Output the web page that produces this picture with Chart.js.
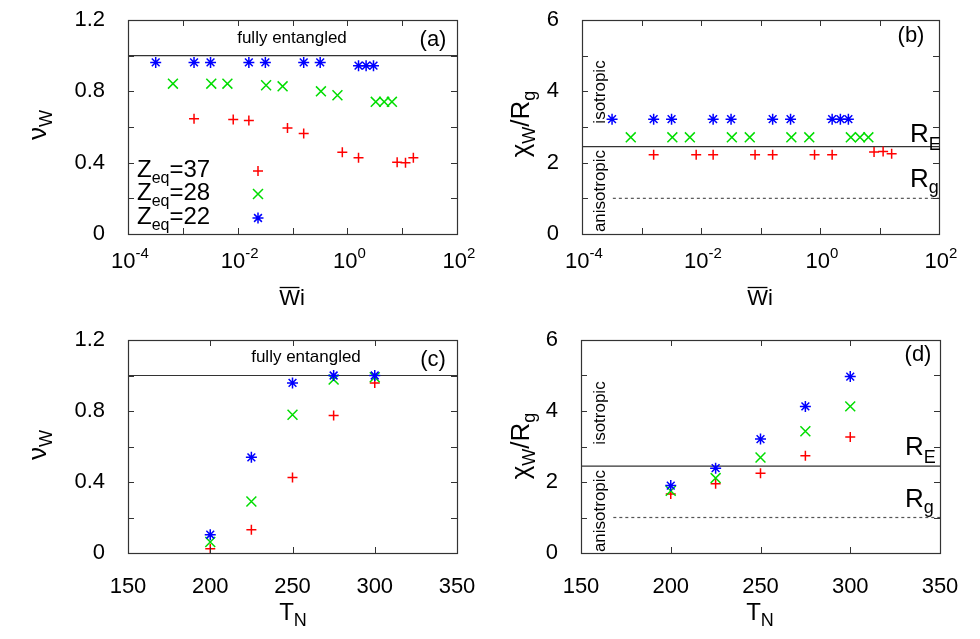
<!DOCTYPE html>
<html>
<head>
<meta charset="utf-8">
<script src="https://cdn.jsdelivr.net/npm/chart.js@4.4.0/dist/chart.umd.min.js"></script>
<style>
  body { margin: 0; background: #fff; width: 980px; height: 639px; position: relative; overflow: hidden; }
  canvas { position: absolute; }
</style>
</head>
<body>
<canvas id="chartA" width="490" height="320" style="left:0;top:0;width:490px;height:320px"></canvas>
<canvas id="chartB" width="490" height="320" style="left:490px;top:0;width:490px;height:320px"></canvas>
<canvas id="chartC" width="490" height="319" style="left:0;top:320px;width:490px;height:319px"></canvas>
<canvas id="chartD" width="490" height="319" style="left:490px;top:320px;width:490px;height:319px"></canvas>
<script>
// Wi positions of the three series (top panels)
const wi22 = [3.2e-4, 1.6e-3, 3.2e-3, 1.6e-2, 3.2e-2, 0.16, 0.32, 1.6, 2.2, 3.0];
const wi28 = [6.6e-4, 3.3e-3, 6.5e-3, 3.3e-2, 6.6e-2, 0.33, 0.66, 3.3, 4.7, 6.5];
const wi37 = [1.6e-3, 8.3e-3, 1.6e-2, 8.1e-2, 0.16, 0.81, 1.6, 8.1, 11.5, 16];

// (a) nu_W vs Wi
const nuWi22 = [0.962, 0.962, 0.962, 0.962, 0.962, 0.962, 0.962, 0.944, 0.944, 0.944];
const nuWi28 = [0.843, 0.843, 0.843, 0.834, 0.828, 0.80, 0.778, 0.741, 0.741, 0.741];
const nuWi37 = [0.646, 0.642, 0.636, 0.595, 0.563, 0.459, 0.427, 0.403, 0.399, 0.427];

// (b) chi_W/R_g vs Wi
const chiWi22 = [3.22, 3.22, 3.22, 3.22, 3.22, 3.22, 3.22, 3.22, 3.22, 3.22];
const chiWi28 = [2.71, 2.71, 2.71, 2.71, 2.71, 2.71, 2.71, 2.71, 2.71, 2.71];
const chiWi37 = [2.22, 2.22, 2.22, 2.22, 2.22, 2.22, 2.22, 2.30, 2.31, 2.25];

// bottom panels vs T_N
const tN = [200, 225, 250, 275, 300];
const nuT22 = [0.103, 0.539, 0.958, 1.0, 1.0];
const nuT28 = [0.062, 0.29, 0.779, 0.977, 0.99];
const nuT37 = [0.024, 0.131, 0.426, 0.774, 0.958];
const chiT22 = [1.90, 2.39, 3.21, 4.13, 4.97];
const chiT28 = [1.75, 2.11, 2.69, 3.43, 4.13];
const chiT37 = [1.66, 1.95, 2.25, 2.74, 3.27];

// reference levels
const fullyEntangled = 1.0;
const rE = 2.45;
const rG = 1.0;

const FONT = "'Liberation Sans', Arial, sans-serif";
Chart.defaults.font.family = FONT;
Chart.defaults.color = '#000';

const RED = '#ff0000', GREEN = '#00dd00', BLUE = '#0000ff', LINE = '#333333';

function series(xs, ys, color, style, r) {
    return {
        data: xs.map((x, i) => ({ x: x, y: ys[i] })),
        borderColor: color,
        backgroundColor: color,
        borderWidth: 1.5,
        pointStyle: style,
        pointRadius: r,
        pointHoverRadius: r
    };
}

function refLine(x0, x1, y, dashed) {
    return {
        data: [{ x: x0, y: y }, { x: x1, y: y }],
        showLine: true,
        pointRadius: 0,
        borderColor: dashed ? '#555' : LINE,
        borderWidth: 1.2,
        borderDash: dashed ? [3, 3] : []
    };
}

// text with sub/superscripts: parts = [[text, size, dy], ...]
function rich(ctx, parts, x, y, align, rot) {
    const w = parts.map(p => { ctx.font = p[1] + 'px ' + FONT; return ctx.measureText(p[0]).width; });
    const total = w.reduce((a, b) => a + b, 0);
    ctx.save();
    ctx.translate(x, y);
    if (rot) ctx.rotate(-Math.PI / 2);
    let cx = align === 'center' ? -total / 2 : (align === 'right' ? -total : 0);
    ctx.textAlign = 'left';
    ctx.textBaseline = 'alphabetic';
    ctx.fillStyle = '#000';
    parts.forEach((p, i) => {
        ctx.font = p[1] + 'px ' + FONT;
        ctx.fillText(p[0], cx, p[2] || 0);
        cx += w[i];
    });
    ctx.restore();
    return total;
}

function plain(ctx, txt, size, x, y, rot) {
    ctx.save();
    ctx.translate(x, y);
    if (rot) ctx.rotate(-Math.PI / 2);
    ctx.font = size + 'px ' + FONT;
    ctx.fillStyle = '#000';
    ctx.textAlign = 'center';
    ctx.textBaseline = 'middle';
    ctx.fillText(txt, 0, 0);
    ctx.restore();
}

function wiLabel(ctx, x, y) {
    ctx.font = '22px ' + FONT;
    const wW = ctx.measureText('W').width;
    const total = wW + ctx.measureText('i').width;
    const x0 = x - total / 2;
    ctx.fillStyle = '#000';
    ctx.textAlign = 'left';
    ctx.textBaseline = 'alphabetic';
    ctx.fillText('Wi', x0, y);
    ctx.strokeStyle = '#000';
    ctx.lineWidth = 1.3;
    ctx.beginPath();
    ctx.moveTo(x0 + 0.5, y - 17.5);
    ctx.lineTo(x0 + wW - 0.5, y - 17.5);
    ctx.stroke();
}

function marker(ctx, style, x, y, color) {
    ctx.save();
    ctx.strokeStyle = color;
    ctx.lineWidth = 1.5;
    ctx.beginPath();
    if (style === 'cross' || style === 'star') {
        const r = style === 'star' ? 5.5 : 5;
        ctx.moveTo(x - r, y); ctx.lineTo(x + r, y);
        ctx.moveTo(x, y - r); ctx.lineTo(x, y + r);
    }
    if (style === 'crossRot' || style === 'star') {
        const d = style === 'star' ? 3.9 : 5;
        ctx.moveTo(x - d, y - d); ctx.lineTo(x + d, y + d);
        ctx.moveTo(x - d, y + d); ctx.lineTo(x + d, y - d);
    }
    ctx.stroke();
    ctx.restore();
}

// frame with inward ticks on all four sides, plus panel texts
function framePlugin(ox, oy, logX, texts) {
    return {
        id: 'frame',
        afterDraw(chart) {
            const ctx = chart.ctx, a = chart.chartArea;
            const sx = chart.scales.x, sy = chart.scales.y;
            ctx.save();
            ctx.strokeStyle = LINE;
            ctx.lineWidth = 1;
            ctx.beginPath();
            sx.ticks.forEach(t => {
                const px = Math.round(sx.getPixelForValue(t.value)) + 0.5;
                ctx.moveTo(px, a.bottom); ctx.lineTo(px, a.bottom - 6);
                ctx.moveTo(px, a.top); ctx.lineTo(px, a.top + 6);
            });
            sy.ticks.forEach(t => {
                const py = Math.round(sy.getPixelForValue(t.value)) + 0.5;
                ctx.moveTo(a.left, py); ctx.lineTo(a.left + 6, py);
                ctx.moveTo(a.right, py); ctx.lineTo(a.right - 6, py);
            });
            ctx.stroke();
            ctx.lineWidth = 1.2;
            ctx.strokeRect(Math.round(a.left) + 0.5, Math.round(a.top) + 0.5,
                Math.round(a.right - a.left), Math.round(a.bottom - a.top));
            if (logX) {
                sx.ticks.forEach(t => {
                    const e = Math.round(Math.log10(t.value));
                    if (e % 2 !== 0) return;
                    rich(ctx, [['10', 22, 0], [String(e), 15, -10]],
                        sx.getPixelForValue(t.value) + 2, a.bottom + 34, 'center');
                });
            }
            ctx.translate(-ox, -oy);
            texts(ctx);
            ctx.restore();
        }
    };
}

// keep the plot area where the layout padding puts it
function noOverflow(s) {
    s.paddingTop = 0; s.paddingBottom = 0; s.paddingLeft = 0; s.paddingRight = 0;
}

function yTicks(step, every, fmt) {
    return {
        stepSize: step, padding: 15, autoSkip: false,
        font: { size: 22 },
        callback: v => (Math.round(v / step) % every === 0 ? fmt(v) : '')
    };
}

function makeChart(id, cfg) {
    return new Chart(document.getElementById(id), {
        type: 'scatter',
        data: { datasets: cfg.datasets },
        options: {
            responsive: false,
            animation: false,
            layout: { padding: { top: 20, right: cfg.padRight, left: 0, bottom: 0 } },
            plugins: { legend: { display: false }, tooltip: { enabled: false } },
            scales: {
                x: cfg.x,
                y: Object.assign({
                    grid: { display: false },
                    border: { display: false },
                    afterFit: s => { s.width = cfg.yWidth; noOverflow(s); }
                }, cfg.y)
            }
        },
        plugins: [framePlugin(cfg.ox, cfg.oy, cfg.logX, cfg.texts)]
    });
}

function logAxis() {
    return {
        type: 'logarithmic', min: 1e-4, max: 100,
        grid: { display: false },
        border: { display: false },
        ticks: { display: false },
        afterBuildTicks: s => { s.ticks = [-4, -3, -2, -1, 0, 1, 2].map(e => ({ value: Math.pow(10, e) })); },
        afterFit: s => { s.height = 86; noOverflow(s); }
    };
}

function tAxis() {
    return {
        type: 'linear', min: 150, max: 350,
        grid: { display: false },
        border: { display: false },
        ticks: { stepSize: 50, padding: 13, font: { size: 22 }, maxRotation: 0, autoSkip: false },
        afterFit: s => { s.height = 86; noOverflow(s); }
    };
}

const nuFmt = v => (Math.abs(v) < 1e-9 ? '0' : v.toFixed(1));
const intFmt = v => String(Math.round(v));

function nuLabel(ctx, y) { rich(ctx, [['ν', 26, 0], ['W', 18, 6]], 46, y, 'center', true); }
function chiLabel(ctx, y) { rich(ctx, [['χ', 26, 0], ['W', 18, 6], ['/R', 26, 0], ['g', 18, 6]], 529, y, 'center', true); }

// (a)
makeChart('chartA', {
    ox: 0, oy: 0, yWidth: 128, padRight: 33, logX: true,
    datasets: [
        series(wi22, nuWi22, BLUE, 'star', 5.5),
        series(wi28, nuWi28, GREEN, 'crossRot', 7),
        series(wi37, nuWi37, RED, 'cross', 5),
        refLine(1e-4, 100, fullyEntangled, false)
    ],
    x: logAxis(),
    y: { min: 0, max: 1.2, ticks: yTicks(0.2, 2, nuFmt) },
    texts: ctx => {
        plain(ctx, 'fully entangled', 17, 292, 38);
        plain(ctx, '(a)', 22, 433, 40);
        rich(ctx, [['Z', 24, 0], ['eq', 16, 6], ['=37', 24, 0]], 137, 177, 'left');
        rich(ctx, [['Z', 24, 0], ['eq', 16, 6], ['=28', 24, 0]], 137, 200, 'left');
        rich(ctx, [['Z', 24, 0], ['eq', 16, 6], ['=22', 24, 0]], 137, 224, 'left');
        marker(ctx, 'cross', 258, 171, RED);
        marker(ctx, 'crossRot', 258, 194, GREEN);
        marker(ctx, 'star', 258, 218, BLUE);
        nuLabel(ctx, 125);
        wiLabel(ctx, 292, 305);
    }
});

// (b)
makeChart('chartB', {
    ox: 490, oy: 0, yWidth: 92, padRight: 41, logX: true,
    datasets: [
        series(wi22, chiWi22, BLUE, 'star', 5.5),
        series(wi28, chiWi28, GREEN, 'crossRot', 7),
        series(wi37, chiWi37, RED, 'cross', 5),
        refLine(1e-4, 100, rE, false),
        refLine(3.3e-4, 100, rG, true)
    ],
    x: logAxis(),
    y: { min: 0, max: 6, ticks: yTicks(1, 2, intFmt) },
    texts: ctx => {
        plain(ctx, '(b)', 22, 911, 36);
        plain(ctx, 'isotropic', 17, 600, 92, true);
        plain(ctx, 'anisotropic', 17, 600, 191, true);
        rich(ctx, [['R', 26, 0], ['E', 18, 8]], 910, 142, 'left');
        rich(ctx, [['R', 26, 0], ['g', 18, 6]], 910, 187, 'left');
        chiLabel(ctx, 124);
        wiLabel(ctx, 760, 305);
    }
});

// (c)
makeChart('chartC', {
    ox: 0, oy: 320, yWidth: 128, padRight: 33, logX: false,
    datasets: [
        series(tN, nuT22, BLUE, 'star', 5.5),
        series(tN, nuT28, GREEN, 'crossRot', 7),
        series(tN, nuT37, RED, 'cross', 5),
        refLine(150, 350, fullyEntangled, false)
    ],
    x: tAxis(),
    y: { min: 0, max: 1.2, ticks: yTicks(0.2, 2, nuFmt) },
    texts: ctx => {
        plain(ctx, 'fully entangled', 17, 306, 357);
        plain(ctx, '(c)', 22, 433, 360);
        nuLabel(ctx, 445);
        rich(ctx, [['T', 24, 0], ['N', 18, 6]], 293, 620, 'center');
    }
});

// (d)
makeChart('chartD', {
    ox: 490, oy: 320, yWidth: 91, padRight: 40, logX: false,
    datasets: [
        series(tN, chiT22, BLUE, 'star', 5.5),
        series(tN, chiT28, GREEN, 'crossRot', 7),
        series(tN, chiT37, RED, 'cross', 5),
        refLine(150, 350, rE, false),
        refLine(168, 350, rG, true)
    ],
    x: tAxis(),
    y: { min: 0, max: 6, ticks: yTicks(1, 2, intFmt) },
    texts: ctx => {
        plain(ctx, '(d)', 22, 918, 355);
        plain(ctx, 'isotropic', 17, 600, 413, true);
        plain(ctx, 'anisotropic', 17, 600, 511, true);
        rich(ctx, [['R', 26, 0], ['E', 18, 8]], 905, 455, 'left');
        rich(ctx, [['R', 26, 0], ['g', 18, 6]], 905, 507, 'left');
        chiLabel(ctx, 446);
        rich(ctx, [['T', 24, 0], ['N', 18, 6]], 760, 620, 'center');
    }
});
</script>
</body>
</html>
